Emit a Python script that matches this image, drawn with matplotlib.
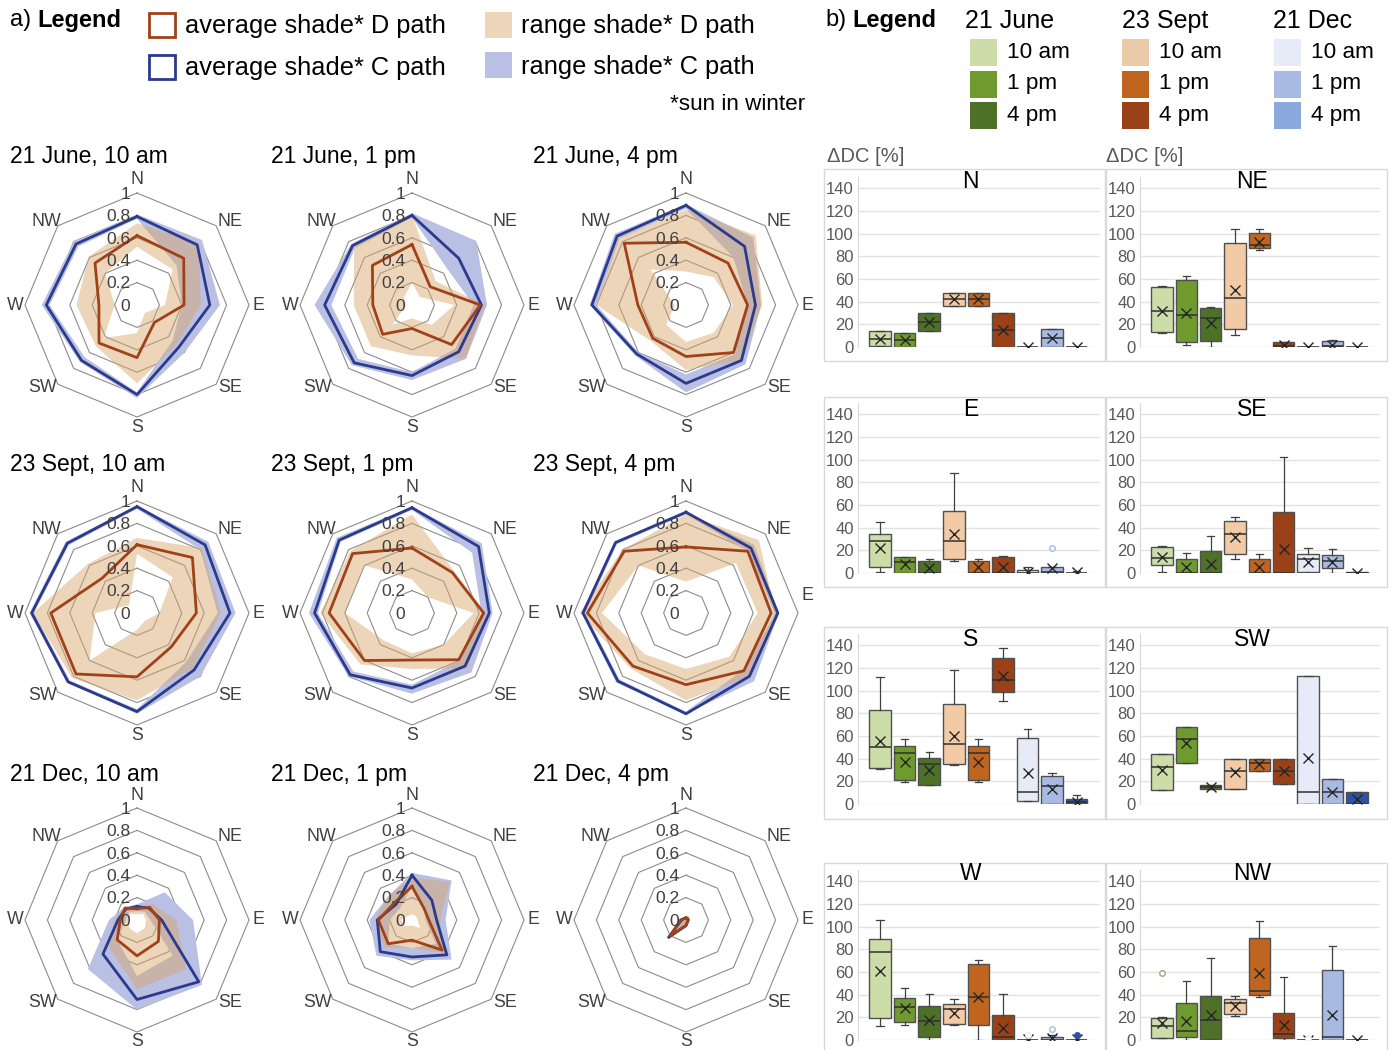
import numpy as np
import matplotlib
matplotlib.use('Agg')
import matplotlib.pyplot as plt
from matplotlib.path import Path
from matplotlib.patches import PathPatch, Rectangle

plt.rcParams['font.family'] = ['Liberation Sans', 'DejaVu Sans']

W_PX, H_PX = 1391, 1050

DIRS = ['N', 'NE', 'E', 'SE', 'S', 'SW', 'W', 'NW']
RADAR_TITLES = ['21 June, 10 am', '21 June, 1 pm', '21 June, 4 pm',
                '23 Sept, 10 am', '23 Sept, 1 pm', '23 Sept, 4 pm',
                '21 Dec, 10 am', '21 Dec, 1 pm', '21 Dec, 4 pm']

# radar values, one row per panel, columns N NE E SE S SW W NW
D_AVG = [[0.62, 0.59, 0.42, 0.22, 0.47, 0.48, 0.34, 0.53],
         [0.54, 0.23, 0.61, 0.50, 0.21, 0.37, 0.35, 0.50],
         [0.56, 0.53, 0.55, 0.60, 0.46, 0.42, 0.43, 0.78],
         [0.61, 0.70, 0.53, 0.43, 0.57, 0.77, 0.77, 0.44],
         [0.58, 0.51, 0.64, 0.59, 0.42, 0.60, 0.74, 0.75],
         [0.59, 0.78, 0.76, 0.73, 0.64, 0.67, 0.88, 0.78],
         [0.10, 0.16, 0.20, 0.27, 0.32, 0.25, 0.15, 0.15],
         [0.30, 0.15, 0.15, 0.38, 0.18, 0.30, 0.30, 0.22],
         [0.02, 0.02, 0.02, 0.02, 0.05, 0.20, 0.05, 0.02]]
D_MIN = [[0.52, 0.45, 0.25, 0.10, 0.25, 0.42, 0.20, 0.40],
         [0.20, 0.10, 0.38, 0.25, 0.12, 0.25, 0.05, 0.10],
         [0.30, 0.35, 0.42, 0.35, 0.33, 0.25, 0.10, 0.45],
         [0.53, 0.45, 0.20, 0.10, 0.15, 0.60, 0.37, 0.10],
         [0.30, 0.20, 0.55, 0.40, 0.36, 0.35, 0.60, 0.60],
         [0.28, 0.63, 0.64, 0.55, 0.50, 0.52, 0.75, 0.60],
         [0.05, 0.08, 0.08, 0.10, 0.12, 0.10, 0.08, 0.08],
         [0.05, 0.05, 0.05, 0.10, 0.05, 0.08, 0.10, 0.05],
         [0.00, 0.00, 0.00, 0.00, 0.00, 0.00, 0.00, 0.00]]
D_MAX = [[0.73, 0.78, 0.57, 0.50, 0.70, 0.52, 0.54, 0.61],
         [0.80, 0.30, 0.65, 0.68, 0.45, 0.52, 0.52, 0.73],
         [0.85, 0.88, 0.68, 0.70, 0.58, 0.45, 0.80, 0.85],
         [0.67, 0.82, 0.75, 0.70, 0.78, 0.82, 0.93, 0.62],
         [0.88, 0.53, 0.66, 0.70, 0.50, 0.65, 0.82, 0.78],
         [0.88, 0.92, 0.80, 0.80, 0.78, 0.70, 0.95, 0.80],
         [0.12, 0.20, 0.35, 0.62, 0.62, 0.35, 0.20, 0.17],
         [0.38, 0.48, 0.25, 0.42, 0.25, 0.35, 0.33, 0.30],
         [0.03, 0.03, 0.03, 0.03, 0.06, 0.22, 0.06, 0.03]]
C_AVG = [[0.79, 0.76, 0.65, 0.53, 0.80, 0.70, 0.81, 0.77],
         [0.80, 0.59, 0.62, 0.59, 0.63, 0.73, 0.78, 0.75],
         [0.89, 0.74, 0.62, 0.70, 0.70, 0.62, 0.84, 0.87],
         [0.95, 0.86, 0.83, 0.72, 0.88, 0.87, 0.94, 0.88],
         [0.94, 0.84, 0.69, 0.67, 0.67, 0.78, 0.87, 0.92],
         [0.90, 0.82, 0.82, 0.80, 0.90, 0.86, 0.92, 0.89],
         [0.12, 0.15, 0.22, 0.78, 0.71, 0.43, 0.17, 0.14],
         [0.40, 0.25, 0.22, 0.44, 0.33, 0.40, 0.31, 0.20],
         [0.02, 0.02, 0.02, 0.02, 0.05, 0.22, 0.04, 0.02]]
C_MIN = [[0.77, 0.50, 0.40, 0.45, 0.78, 0.66, 0.78, 0.74],
         [0.78, 0.45, 0.55, 0.55, 0.60, 0.68, 0.72, 0.72],
         [0.86, 0.60, 0.55, 0.62, 0.62, 0.60, 0.80, 0.84],
         [0.93, 0.80, 0.72, 0.62, 0.86, 0.85, 0.92, 0.86],
         [0.92, 0.76, 0.62, 0.60, 0.64, 0.74, 0.84, 0.90],
         [0.88, 0.78, 0.80, 0.72, 0.88, 0.84, 0.90, 0.87],
         [0.08, 0.10, 0.12, 0.45, 0.50, 0.25, 0.10, 0.10],
         [0.30, 0.15, 0.12, 0.30, 0.25, 0.30, 0.20, 0.15],
         [0.00, 0.00, 0.00, 0.00, 0.00, 0.00, 0.00, 0.00]]
C_MAX = [[0.81, 0.82, 0.74, 0.60, 0.83, 0.72, 0.85, 0.80],
         [0.82, 0.81, 0.67, 0.68, 0.67, 0.76, 0.87, 0.77],
         [0.90, 0.85, 0.67, 0.75, 0.78, 0.64, 0.86, 0.90],
         [0.96, 0.90, 0.88, 0.80, 0.90, 0.88, 0.96, 0.90],
         [0.95, 0.88, 0.72, 0.75, 0.72, 0.80, 0.92, 0.95],
         [0.90, 0.86, 0.83, 0.86, 0.90, 0.88, 0.93, 0.90],
         [0.14, 0.35, 0.50, 0.82, 0.80, 0.62, 0.25, 0.16],
         [0.42, 0.50, 0.30, 0.50, 0.36, 0.45, 0.38, 0.30],
         [0.03, 0.03, 0.03, 0.03, 0.06, 0.23, 0.05, 0.03]]

# box plot stats per orientation: (whisker lo, q1, median, q3, whisker hi, mean)
# order: June 10am/1pm/4pm, Sept 10am/1pm/4pm, Dec 10am/1pm/4pm
box_N = [(1, 1, 7, 14, 14, 7), (0, 0, 6, 12, 12, 6), (14, 14, 22, 30, 30, 22),
         (36, 36, 42, 48, 48, 42), (36, 36, 42, 48, 48, 42), (0, 0, 15, 30, 30, 15),
         (0, 0, 0, 0, 0, 0), (0, 0, 8, 16, 16, 8), (0, 0, 0, 0, 0, 0)]
box_NE = [(12, 13, 32, 53, 54, 32), (2, 4, 28, 59, 63, 30), (0, 5, 26, 34, 35, 21),
          (11, 16, 43, 92, 104, 50), (86, 87, 90, 101, 104, 93), (0, 0, 1, 4, 4, 2),
          (0, 0, 0, 0, 0, 0), (0, 0.5, 1, 5, 6, 2), (0, 0, 0, 0, 0, 0)]
box_E = [(1, 5, 28, 34, 45, 22), (0, 0, 10, 14, 14, 8), (0, 0, 0, 11, 12, 4),
         (11, 12, 28, 55, 88, 34), (0, 0, 0, 11, 12, 5), (0, 0, 0, 14, 15, 5),
         (0, 0, 0, 3, 5, 1), (0, 0, 1, 5, 5, 4), (0, 0, 0, 0, 2, 1)]
box_SE = [(1, 7, 13, 23, 24, 14), (0, 0, 0, 12, 18, 5), (0, 0, 0, 19, 33, 8),
          (12, 17, 34, 46, 49, 32), (0, 0, 0, 12, 17, 5), (0, 0, 0, 54, 102, 21),
          (0, 1, 12, 17, 22, 10), (0, 4, 11, 16, 21, 10), (0, 0, 0, 1, 1, 0)]
box_S = [(31, 32, 50, 83, 112, 56), (19, 21, 45, 51, 57, 37), (17, 17, 35, 41, 46, 30),
         (34, 35, 53, 88, 118, 60), (19, 21, 45, 51, 57, 37), (91, 99, 109, 129, 138, 113),
         (3, 3, 11, 58, 66, 27), (0, 0, 16, 25, 27, 13), (0, 0, 2, 4, 8, 2)]
box_SW = [(12, 12, 33, 44, 44, 30), (36, 36, 57, 68, 68, 54), (13, 13, 15, 17, 17, 15),
          (13, 13, 29, 40, 40, 28), (29, 29, 36, 40, 40, 35), (18, 18, 29, 40, 40, 29),
          (0, 0, 11, 113, 113, 41), (0, 0, 11, 22, 22, 11), (0, 0, 0, 11, 11, 4)]
box_W = [(12, 19, 78, 89, 106, 61), (13, 16, 29, 37, 46, 28), (0, 3, 17, 30, 41, 18),
         (13, 14, 27, 32, 36, 24), (0, 13, 38, 67, 71, 38), (0, 0, 3, 22, 41, 11),
         (0, 0, 0, 0, 0, 1), (0, 0, 0, 3, 4, 2), (0, 0, 0, 0, 0, 1)]
box_NW = [(2, 2, 12, 19, 20, 15), (0, 3, 8, 33, 52, 17), (0, 1, 18, 39, 72, 22),
          (21, 23, 33, 36, 39, 30), (38, 40, 43, 90, 105, 59), (0, 2, 5, 24, 56, 13),
          (0, 0, 0, 0, 0, 0), (0, 0, 3, 62, 83, 22), (0, 0, 0, 0, 0, 0)]
# (panel, box index, value)
OUTLIERS = [('E', 7, 22), ('W', 6, 4), ('W', 7, 10), ('W', 8, 4), ('NW', 0, 59), ('NW', 6, 2)]

BOX_COLORS = ['#CCDDAA', '#6F9A2D', '#4E7128',
              '#F2CBA6', '#C0651F', '#9A4117',
              '#E6EBF7', '#A8B9E2', '#2E53A3']
LEGEND_COLORS = ['#CCDDAA', '#6F9A2D', '#4E7128',
                 '#EACAA8', '#C0651F', '#9A4117',
                 '#E6EBF7', '#A8B9E2', '#8AA9DC']

D_LINE = '#A0411A'
C_LINE = '#2B3A8C'
D_FILL = '#D9A66A'
C_FILL = '#B9C0E3'
TXT = '#404040'

# where the compass labels sit relative to the outer vertex (px, right/down)
LABEL_OFFSETS = {'N': (0, -13), 'NE': (14, -4), 'E': (9, 0), 'SE': (14, 3),
                 'S': (0, 10), 'SW': (-15, 3), 'W': (-10, 0), 'NW': (-11, -4)}


def fx(x):
    return x / W_PX


def fy(y):
    return 1 - y / H_PX


def ring_patch(ax, theta, rmin, rmax, **kw):
    # band between min and max polygon (inner one reversed -> hole)
    outer = list(zip(theta, rmax))
    inner = list(zip(theta, rmin))[::-1]
    verts = outer + [outer[0]] + inner + [inner[0]]
    codes = ([Path.MOVETO] + [Path.LINETO] * 7 + [Path.CLOSEPOLY]) * 2
    patch = PathPatch(Path(verts, codes), transform=ax.transData, lw=0, clip_on=False, **kw)
    ax.add_patch(patch)


def draw_radar(fig, i, cx, cy, R=112):
    ax = fig.add_axes([fx(cx - R), fy(cy + R), 2 * R / W_PX, 2 * R / H_PX], projection='polar')
    ax.set_theta_zero_location('N')
    ax.set_theta_direction(-1)
    ax.set_ylim(0, 1)
    ax.set_xticks([])
    ax.set_yticks([])
    ax.grid(False)
    ax.spines['polar'].set_visible(False)
    ax.patch.set_alpha(0)

    theta = np.deg2rad(np.arange(0, 360, 45))
    tc = np.append(theta, theta[0])
    for lvl in [0.2, 0.4, 0.6, 0.8, 1.0]:
        ax.plot(tc, [lvl] * 9, color='#8C8C8C', lw=0.8, zorder=1, clip_on=False)

    ring_patch(ax, theta, C_MIN[i], C_MAX[i], facecolor=C_FILL, zorder=2)
    ring_patch(ax, theta, D_MIN[i], D_MAX[i], facecolor=D_FILL, alpha=0.47, zorder=3)
    ax.plot(tc, np.append(C_AVG[i], C_AVG[i][0]), color=C_LINE, lw=2.0, zorder=4, clip_on=False)
    ax.plot(tc, np.append(D_AVG[i], D_AVG[i][0]), color=D_LINE, lw=2.0, zorder=5, clip_on=False)

    for t, d in zip(theta, DIRS):
        dx, dy = LABEL_OFFSETS[d]
        if i == 5 and d == 'E':
            dy = -18   # this one sits higher in the original
        ax.annotate(d, xy=(t, 1.0), xytext=(dx * 0.72, -dy * 0.72), textcoords='offset points',
                    ha='center', va='center', fontsize=12.8, color=TXT)
    for lvl, lab in zip([0, 0.2, 0.4, 0.6, 0.8, 1.0], ['0', '0.2', '0.4', '0.6', '0.8', '1']):
        ax.annotate(lab, xy=(0, lvl), xytext=(-5, -1), textcoords='offset points',
                    ha='right', va='center', fontsize=12.5, color=TXT, zorder=6)
    return ax


def draw_box_panel(fig, name, stats, left, right, bottom):
    ax = fig.add_axes([fx(left), fy(bottom), (right - left) / W_PX, 170 / H_PX])
    bxp_stats = []
    for lo, q1, med, q3, hi, mean in stats:
        bxp_stats.append(dict(whislo=lo, q1=q1, med=med, q3=q3, whishi=hi, mean=mean, fliers=[]))
    pos = np.arange(1, 10)
    res = ax.bxp(bxp_stats, positions=pos, widths=0.88, patch_artist=True,
                 showmeans=True, capwidths=0.3, manage_ticks=False,
                 boxprops=dict(edgecolor='#505050', linewidth=1.0),
                 medianprops=dict(color='#303030', linewidth=1.1),
                 whiskerprops=dict(color='#404040', linewidth=0.9),
                 capprops=dict(color='#404040', linewidth=0.9),
                 meanprops=dict(marker='x', markeredgecolor='#262626', markersize=6.5,
                                markeredgewidth=1.0))
    for patch, col in zip(res['boxes'], BOX_COLORS):
        patch.set_facecolor(col)
    for pname, idx, val in OUTLIERS:
        if pname == name:
            face = BOX_COLORS[idx] if idx == 8 else 'white'
            ax.plot(pos[idx], val, 'o', mfc=face, mec=BOX_COLORS[idx] if idx != 0 else '#9AAA7A',
                    ms=4, mew=1.0, zorder=5)

    ax.set_xlim(0.1, 9.95)
    ax.set_ylim(0, 150)
    ax.set_yticks(range(0, 141, 20))
    ax.set_xticks([])
    ax.tick_params(axis='y', length=0, labelsize=12, labelcolor='#595959', pad=3)
    ax.yaxis.grid(True, color='#E3E3E3', lw=1.0)
    ax.set_axisbelow(True)
    for s in ['top', 'right', 'bottom']:
        ax.spines[s].set_visible(False)
    ax.spines['left'].set_color('#D9D9D9')
    ax.patch.set_alpha(0)
    return ax


def main():
    fig = plt.figure(figsize=(W_PX / 100, H_PX / 100), dpi=100)

    # ---- a) legend ----
    fig.text(fx(10), fy(20), 'a)', fontsize=17, va='center', ha='left')
    fig.text(fx(37), fy(20), 'Legend', fontsize=17, fontweight='bold', va='center', ha='left')
    fig.patches.append(Rectangle((fx(149), fy(37)), 26 / W_PX, 24 / H_PX, transform=fig.transFigure,
                                 fill=False, edgecolor=D_LINE, lw=2))
    fig.patches.append(Rectangle((fx(149), fy(79)), 26 / W_PX, 24 / H_PX, transform=fig.transFigure,
                                 fill=False, edgecolor=C_LINE, lw=2))
    fig.text(fx(185), fy(26), 'average shade* D path', fontsize=18.3, va='center')
    fig.text(fx(185), fy(68), 'average shade* C path', fontsize=18.3, va='center')
    fig.patches.append(Rectangle((fx(485), fy(38)), 27 / W_PX, 26 / H_PX, transform=fig.transFigure,
                                 facecolor='#EDD5B9', lw=0))
    fig.patches.append(Rectangle((fx(485), fy(78)), 27 / W_PX, 26 / H_PX, transform=fig.transFigure,
                                 facecolor=C_FILL, lw=0))
    fig.text(fx(521), fy(26), 'range shade* D path', fontsize=18.3, va='center')
    fig.text(fx(521), fy(67), 'range shade* C path', fontsize=18.3, va='center')
    fig.text(fx(805), fy(104), '*sun in winter', fontsize=16.2, va='center', ha='right')

    # ---- radar grid ----
    col_x = [137, 412, 686]
    row_y = [305, 613, 920]
    title_x = [10, 271, 533]
    title_y = [156, 465, 774]
    for i in range(9):
        r, c = divmod(i, 3)
        draw_radar(fig, i, col_x[c], row_y[r])
        fig.text(fx(title_x[c]), fy(title_y[r]), RADAR_TITLES[i], fontsize=16.5, va='center', ha='left')

    # ---- b) legend ----
    fig.text(fx(825), fy(20), 'b)', fontsize=17, va='center', ha='left')
    fig.text(fx(852), fy(20), 'Legend', fontsize=17, fontweight='bold', va='center', ha='left')
    group_x = [965, 1122, 1273]
    group_names = ['21 June', '23 Sept', '21 Dec']
    patch_x = [970, 1122, 1274]
    times = ['10 am', '1 pm', '4 pm']
    rows = [52, 84, 115]
    for g in range(3):
        fig.text(fx(group_x[g]), fy(21), group_names[g], fontsize=18, va='center', ha='left')
        for k in range(3):
            fig.patches.append(Rectangle((fx(patch_x[g]), fy(rows[k] + 13.5)), 27 / W_PX, 27 / H_PX,
                                         transform=fig.transFigure,
                                         facecolor=LEGEND_COLORS[g * 3 + k], lw=0))
            fig.text(fx(patch_x[g] + 37), fy(rows[k]), times[k], fontsize=16.2, va='center', ha='left')

    # ---- box plot panels ----
    panels = [('N', box_N), ('NE', box_NE), ('E', box_E), ('SE', box_SE),
              ('S', box_S), ('SW', box_SW), ('W', box_W), ('NW', box_NW)]
    bottoms = [347, 573, 804, 1040]
    frame_tops = [169, 397, 627, 863]
    frame_bots = [361, 587, 819, 1056]
    title_ys = [181, 410, 639, 873]
    for j, (name, stats) in enumerate(panels):
        r, c = divmod(j, 2)
        left, right = (858, 1100) if c == 0 else (1140, 1380)
        fx0, fx1 = (824, 1105) if c == 0 else (1106, 1387)
        fig.patches.append(Rectangle((fx(fx0), fy(frame_bots[r])), (fx1 - fx0) / W_PX,
                                     (frame_bots[r] - frame_tops[r]) / H_PX,
                                     transform=fig.transFigure, fill=False,
                                     edgecolor='#D9D9D9', lw=1.0))
        draw_box_panel(fig, name, stats, left, right, bottoms[r])
        fig.text(fx((fx0 + fx1) / 2 + 6), fy(title_ys[r]), name, fontsize=16.5,
                 va='center', ha='center')

    fig.text(fx(827), fy(157), 'ΔDC [%]', fontsize=14.5, color='#595959', va='center', ha='left')
    fig.text(fx(1106), fy(157), 'ΔDC [%]', fontsize=14.5, color='#595959', va='center', ha='left')

    fig.savefig('out.png', dpi=100)


if __name__ == "__main__":
    main()
